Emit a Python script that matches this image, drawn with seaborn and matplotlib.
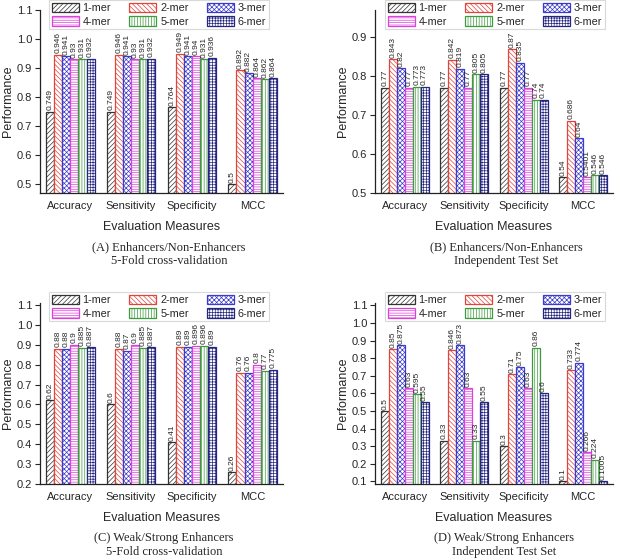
import matplotlib
matplotlib.use('Agg')
import matplotlib.pyplot as plt
from matplotlib.patches import Patch
import numpy as np
import pandas as pd
import seaborn as sns

# data
measures = ['Accuracy', 'Sensitivity', 'Specificity', 'MCC']
kmers = ['1-mer', '2-mer', '3-mer', '4-mer', '5-mer', '6-mer']

# (A) Enhancers/Non-Enhancers, 5-fold CV
a_1mer = [0.749, 0.749, 0.764, 0.5]
a_2mer = [0.946, 0.946, 0.949, 0.892]
a_3mer = [0.941, 0.941, 0.941, 0.882]
a_4mer = [0.93, 0.93, 0.94, 0.864]
a_5mer = [0.931, 0.931, 0.931, 0.862]
a_6mer = [0.932, 0.932, 0.936, 0.864]

# (B) Enhancers/Non-Enhancers, independent test
b_1mer = [0.77, 0.77, 0.77, 0.54]
b_2mer = [0.843, 0.842, 0.87, 0.686]
b_3mer = [0.82, 0.819, 0.835, 0.64]
b_4mer = [0.77, 0.77, 0.77, 0.5401]
b_5mer = [0.773, 0.805, 0.74, 0.546]
b_6mer = [0.773, 0.805, 0.74, 0.546]

# (C) Weak/Strong, 5-fold CV
c_1mer = [0.62, 0.6, 0.41, 0.26]
c_2mer = [0.88, 0.88, 0.89, 0.76]
c_3mer = [0.88, 0.87, 0.89, 0.76]
c_4mer = [0.9, 0.9, 0.896, 0.8]
c_5mer = [0.885, 0.885, 0.896, 0.77]
c_6mer = [0.887, 0.887, 0.89, 0.775]

# (D) Weak/Strong, independent test
d_1mer = [0.5, 0.33, 0.3, 0.1]
d_2mer = [0.85, 0.846, 0.71, 0.733]
d_3mer = [0.875, 0.873, 0.75, 0.774]
d_4mer = [0.63, 0.63, 0.63, 0.266]
d_5mer = [0.595, 0.33, 0.86, 0.224]
d_6mer = [0.55, 0.55, 0.6, 0.1005]

captions = [
    ('(A) Enhancers/Non-Enhancers', '5-Fold cross-validation'),
    ('(B) Enhancers/Non-Enhancers', 'Independent Test Set'),
    ('(C) Weak/Strong Enhancers', '5-Fold cross-validation'),
    ('(D) Weak/Strong Enhancers', 'Independent Test Set'),
]

colors = ['#333333', '#e0453c', '#3a3acc', '#dd40dd', '#3d9a3d', '#262680']
hatches = ['///////', '\\\\\\\\\\\\\\', 'xxxxxxx', '-------', '||||||', '++++++']

sns.set_style('ticks')
plt.rcParams['font.family'] = ['Liberation Sans', 'DejaVu Sans']
plt.rcParams['hatch.linewidth'] = 0.5

W, H = 620, 559
fig = plt.figure(figsize=(W / 100, H / 100), dpi=100)


def px_axes(left, right, top, bottom):
    return fig.add_axes([left / W, 1 - bottom / H, (right - left) / W, (bottom - top) / H])


panels = [
    dict(series=[a_1mer, a_2mer, a_3mer, a_4mer, a_5mer, a_6mer],
         box=(40, 283, 10, 193), ylim=(0.469, 1.1), ticks=np.arange(0.5, 1.11, 0.1),
         leg=(159, 0), cap=(169, 247), ylab_x=8),
    dict(series=[b_1mer, b_2mer, b_3mer, b_4mer, b_5mer, b_6mer],
         box=(375, 613, 10, 193), ylim=(0.5, 0.97), ticks=np.arange(0.5, 0.91, 0.1),
         leg=(495, 0), cap=(506, 247), ylab_x=343),
    dict(series=[c_1mer, c_2mer, c_3mer, c_4mer, c_5mer, c_6mer],
         box=(40, 283, 303, 484), ylim=(0.2, 1.11), ticks=np.arange(0.2, 1.11, 0.1),
         leg=(159, 292), cap=(164, 538), ylab_x=8),
    dict(series=[d_1mer, d_2mer, d_3mer, d_4mer, d_5mer, d_6mer],
         box=(375, 613, 303, 484), ylim=(0.085, 1.113), ticks=np.arange(0.1, 1.11, 0.1),
         leg=(495, 292), cap=(504, 538), ylab_x=343),
]

for p, (cap1, cap2) in zip(panels, captions):
    ax = px_axes(*p['box'])
    rows = []
    for k, vals in zip(kmers, p['series']):
        for m, v in zip(measures, vals):
            rows.append({'measure': m, 'kmer': k, 'value': v})
    df = pd.DataFrame(rows)

    sns.barplot(data=df, x='measure', y='value', hue='kmer', order=measures,
                hue_order=kmers, palette=colors, width=0.8, legend=False, ax=ax)

    for cont, c, h, vals in zip(ax.containers, colors, hatches, p['series']):
        for bar in cont:
            bar.set_facecolor('white')
            bar.set_edgecolor(c)
            bar.set_hatch(h)
            bar.set_linewidth(0.9)
        ax.bar_label(cont, labels=[f'{v:g}' for v in vals], rotation=90,
                     fontsize=6, padding=1)

    ax.set_xlim(-0.5, 3.5)
    ax.set_ylim(*p['ylim'])
    ax.set_yticks(p['ticks'])
    ax.set_yticklabels([f'{t:.1f}' for t in p['ticks']])
    ax.tick_params(axis='y', direction='out', length=3.5, width=0.8, labelsize=8, pad=2)
    ax.tick_params(axis='x', direction='in', length=3, width=0.8, labelsize=8, pad=6)
    ax.set_xlabel('Evaluation Measures', fontsize=9, labelpad=7)
    ax.set_ylabel('Performance', fontsize=9, va='center')
    left, right = p['box'][0], p['box'][1]
    ax.yaxis.set_label_coords((p['ylab_x'] - left) / (right - left), 0.5)
    sns.despine(ax=ax)
    for s in ['left', 'bottom']:
        ax.spines[s].set_linewidth(0.9)
        ax.spines[s].set_color('#222222')

    handles = [Patch(facecolor='white', edgecolor=c, hatch=h, label=k, linewidth=0.9)
               for k, c, h in zip(kmers, colors, hatches)]
    order = [0, 3, 1, 4, 2, 5]
    leg = ax.legend(handles=[handles[i] for i in order], ncol=3, loc='upper center',
                    bbox_to_anchor=(p['leg'][0] / W, 1 - p['leg'][1] / H),
                    bbox_transform=fig.transFigure, fontsize=7.8, frameon=True,
                    fancybox=False, handlelength=2.5, handleheight=0.95,
                    handletextpad=0.35, columnspacing=1.7, labelspacing=0.3,
                    borderpad=0.25, borderaxespad=0)
    leg.get_frame().set_edgecolor('#d0d0d0')
    leg.get_frame().set_linewidth(0.8)

    cx, cy = p['cap']
    fig.text(cx / W, 1 - cy / H, cap1, ha='center', va='center',
             family=['Liberation Serif', 'DejaVu Serif'], fontsize=9)
    fig.text(cx / W, 1 - (cy + 14) / H, cap2, ha='center', va='center',
             family=['Liberation Serif', 'DejaVu Serif'], fontsize=9)

fig.savefig('out.png', dpi=100)
